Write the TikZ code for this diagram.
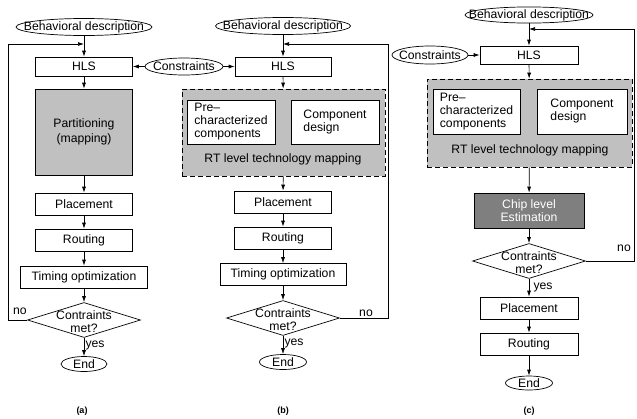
\documentclass[tikz,border=0pt]{standalone}
\usepackage{fontspec}
\setmainfont{Liberation Sans}
\usetikzlibrary{arrows.meta,shapes.geometric}
\definecolor{lightfill}{HTML}{C0C0C0}
\definecolor{darkfill}{HTML}{7F7F7F}
\newcommand{\inell}[1]{\makebox[0pt]{#1}}
\tikzset{
	every node/.style={font=\fontsize{12.2}{13}\selectfont},
	proc/.style={draw, fill=white, rectangle, inner sep=0pt, minimum height=22pt},
	term/.style={draw, ellipse, inner sep=0pt},
	decision/.style={draw, diamond, inner sep=0pt, minimum width=113pt, minimum height=35pt},
	dtext/.style={align=center, yshift=-2pt},
	rtarea/.style={draw, fill=lightfill, dash pattern=on 5pt off 3pt, inner sep=0pt},
	flow/.style={-{Latex[length=6pt,width=4pt]}},
	caption/.style={font=\fontsize{9}{10}\selectfont\bfseries}
}

\begin{document}
\begin{tikzpicture}[x=1pt, y=-1pt, line width=0.7pt]
			%%%%% START %%%%%
			\useasboundingbox (0,0) rectangle (637,418);
			
			%%%%% (a) %%%%%
			\node[term, minimum width=136pt, minimum height=17pt] (bda) at (84,27) {\inell{Behavioral description}};
			\node[proc, minimum width=97pt, minimum height=19pt] (hlsa) at (84,66.5) {HLS};
			\node[term, minimum width=78pt, minimum height=17pt] (cons) at (184,66.5) {\inell{Constraints}};
			\node[proc, fill=lightfill, minimum width=97pt, minimum height=86pt, align=center] (parta) at (84,132) {Partitioning\\[2pt](mapping)};
			\node[proc, minimum width=97pt] (placea) at (84,204) {Placement};
			\node[proc, minimum width=97pt] (routa) at (84,240) {Routing};
			\node[proc, minimum width=127pt] (timea) at (84,277) {Timing optimization};
			\node[decision, label={[dtext]center:Contraints\\met?}] (deca) at (84,320) {};
			\node[term, minimum width=46pt, minimum height=15pt] (enda) at (84,364) {\inell{End}};
			\node (noa) at (20,311) {no};
			\node (yesa) at (95,345) {yes};
			\node[caption] (capa) at (82,411) {(a)};
			\coordinate (ja) at (84,44);
			
			\draw[flow] (bda) -- (hlsa);
			\draw[flow] (cons) -- (hlsa);
			\draw[flow] (hlsa) -- (parta);
			\draw[flow] (parta) -- (placea);
			\draw[flow] (placea) -- (routa);
			\draw[flow] (routa) -- (timea);
			\draw[flow] (timea) -- (deca);
			\draw[flow] (deca) -- (enda);
			\draw[flow] (deca.west) -- ++(-19,0) |- (ja);
			
			%%%%% (b) %%%%%
			\node[term, minimum width=135pt, minimum height=17pt] (bdb) at (283,26) {\inell{Behavioral description}};
			\node[proc, minimum width=96pt, minimum height=19pt] (hlsb) at (283,66.5) {HLS};
			\node[rtarea, minimum width=203pt, minimum height=87pt] (rtb) at (283.5,132.5) {};
			\node[proc, minimum width=88pt, minimum height=44pt, align=left] (preb) at (231,122) {Pre–\\characterized\\components};
			\node[proc, minimum width=88pt, minimum height=44pt, align=left] (compb) at (335,122) {Component\\design};
			\node (rtlb) at (283,159) {RT level technology mapping};
			\node[proc, minimum width=97pt] (placeb) at (283,202) {Placement};
			\node[proc, minimum width=97pt] (routb) at (283,238) {Routing};
			\node[proc, minimum width=126pt] (timeb) at (283,274.5) {Timing optimization};
			\node[decision, label={[dtext]center:Contraints\\met?}] (decb) at (283,318) {};
			\node[term, minimum width=47pt, minimum height=15pt] (endb) at (283,362) {\inell{End}};
			\node (nob) at (366,313) {no};
			\node (yesb) at (294,343) {yes};
			\node[caption] (capb) at (283,411) {(b)};
			\coordinate (jb) at (283,44);
			
			\draw[flow] (bdb) -- (hlsb);
			\draw[flow] (cons) -- (hlsb);
			\draw[flow] (hlsb) -- (rtb);
			\draw[flow] (rtb) -- (placeb);
			\draw[flow] (placeb) -- (routb);
			\draw[flow] (routb) -- (timeb);
			\draw[flow] (timeb) -- (decb);
			\draw[flow] (decb) -- (endb);
			\draw[flow] (decb.east) -- ++(48.5,0) |- (jb);
			
			%%%%% (c) %%%%%
			\node[term, minimum width=128pt, minimum height=16pt] (bdc) at (529,15) {\inell{Behavioral description}};
			\node[term, minimum width=76pt, minimum height=18pt] (consc) at (430,55) {\inell{Constraints}};
			\node[proc, minimum width=98pt, minimum height=18pt] (hlsc) at (529,55) {HLS};
			\node[rtarea, minimum width=205pt, minimum height=88pt] (rtc) at (529.5,123) {};
			\node[proc, minimum width=87pt, minimum height=45pt, align=left] (prec) at (476.5,111.5) {Pre–\\characterized\\components};
			\node[proc, minimum width=90pt, minimum height=45pt, align=left] (compc) at (582,111.5) {Component\\design};
			\node (rtlc) at (530,150) {RT level technology mapping};
			\node[proc, fill=darkfill, text=white, minimum width=110pt, minimum height=35pt, align=center] (chipc) at (529,210.5) {Chip level\\Estimation};
			\node[decision, label={[dtext]center:Contraints\\met?}] (decc) at (529,261) {};
			\node[proc, minimum width=98pt] (placec) at (529,308) {Placement};
			\node[proc, minimum width=98pt] (routc) at (529,344) {Routing};
			\node[term, minimum width=47pt, minimum height=14pt] (endc) at (529,383) {\inell{End}};
			\node (noc) at (624,248) {no};
			\node (yesc) at (543,287) {yes};
			\node[caption] (capc) at (529,411) {(c)};
			\coordinate (jc) at (529,29);
			
			\draw[flow] (bdc) -- (hlsc);
			\draw[flow] (consc) -- (hlsc);
			\draw[flow] (hlsc) -- (rtc);
			\draw[flow] (rtc) -- (chipc);
			\draw[flow] (chipc) -- (decc);
			\draw[flow] (decc) -- (placec);
			\draw[flow] (placec) -- (routc);
			\draw[flow] (routc) -- (endc);
			\draw[flow] (decc.east) -- ++(48,0) |- (jc);
			
			%%%%% END %%%%%
\end{tikzpicture}
\end{document}
